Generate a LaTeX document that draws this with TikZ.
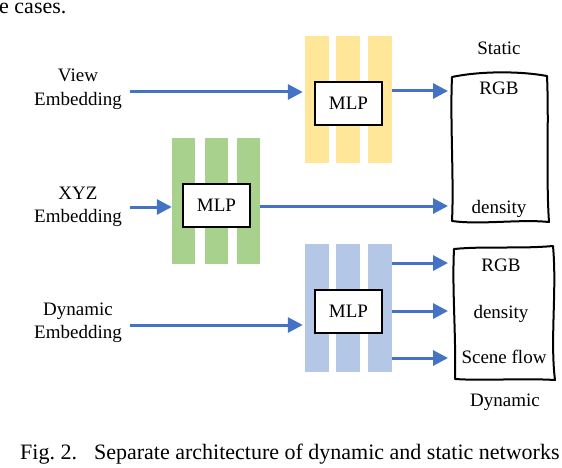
\documentclass[tikz,border=0pt]{standalone}
\usepackage{fontspec}
\setmainfont{Liberation Serif}
\usetikzlibrary{arrows.meta}
\definecolor{arrowblue}{HTML}{4472C4}
\definecolor{baryellow}{HTML}{FFE699}
\definecolor{bargreen}{HTML}{A9D18E}
\definecolor{barblue}{HTML}{B4C7E7}
\begin{document}
\begin{tikzpicture}[x=1pt,y=-1pt,
  txt/.style={font=\fontsize{19}{24}\selectfont, inner sep=0pt, anchor=base},
  flow/.style={draw=arrowblue, line width=3pt, -{Triangle[length=15pt,width=15pt]}},
  mlpbox/.style={draw=black, line width=2pt, fill=white, minimum width=67pt, minimum height=43pt, inner sep=0pt, font=\fontsize{19}{24}\selectfont},
  ybar/.style={fill=baryellow, draw=none, minimum width=24pt, minimum height=127pt, inner sep=0pt},
  gbar/.style={fill=bargreen, draw=none, minimum width=23pt, minimum height=126pt, inner sep=0pt},
  bbar/.style={fill=barblue, draw=none, minimum width=24pt, minimum height=128pt, inner sep=0pt},
  outbox/.style={draw=black, line width=2pt, line join=round}]
\useasboundingbox (0,0) rectangle (562,468);

% cropped text of the page above
\node[anchor=base west, inner sep=0pt, font=\fontsize{22}{26}\selectfont] (prev) at (-1,14) {e cases.};

% input labels
\node[txt] (view1) at (78,82) {View};
\node[txt] (view2) at (78,106) {Embedding};
\node[txt] (xyz1) at (78,199) {XYZ};
\node[txt] (xyz2) at (78,222) {Embedding};
\node[txt] (dyn1) at (78,315) {Dynamic};
\node[txt] (dyn2) at (78,338) {Embedding};

% yellow (view) network
\node[ybar] (y1) at (317,99.5) {};
\node[ybar] (y2) at (348,99.5) {};
\node[ybar] (y3) at (380,99.5) {};
\node[mlpbox] (ymlp) at (348.5,103.5) {MLP};

% green (xyz) network
\node[gbar] (g1) at (183.5,201) {};
\node[gbar] (g2) at (216,201) {};
\node[gbar] (g3) at (248,201) {};
\node[mlpbox] (gmlp) at (216.5,205) {MLP};

% blue (dynamic) network
\node[bbar] (b1) at (317,308) {};
\node[bbar] (b2) at (348,308) {};
\node[bbar] (b3) at (380,308) {};
\node[mlpbox] (bmlp) at (348.5,311.5) {MLP};

% static output box
\draw[outbox] (452,77) .. controls (480,71) and (520,71) .. (547,76)
  .. controls (549,120) and (546,180) .. (549,222)
  .. controls (520,219) and (480,225) .. (452,221)
  .. controls (454,180) and (450,120) .. (452,77) -- cycle;
\node[txt] (stitle) at (499,55) {Static};
\node[txt] (srgb) at (499,95) {RGB};
\node[txt] (sden) at (499,213) {density};

% dynamic output box
\draw[outbox] (454,249) .. controls (485,246) and (520,249) .. (553,246)
  .. controls (557,290) and (550,340) .. (555,380)
  .. controls (520,378) and (485,381) .. (455,379)
  .. controls (456,330) and (452,290) .. (454,249) -- cycle;
\node[txt] (drgb) at (501,271) {RGB};
\node[txt] (dden) at (501,318) {density};
\node[txt] (dflow) at (504,363) {Scene flow};
\node[txt] (dtitle) at (505,406) {Dynamic};

% arrow anchor points
\coordinate (viewout) at (130,92);
\coordinate (xyzout) at (130,207);
\coordinate (dynout) at (130,325);
\coordinate (srgbin) at (448,91);
\coordinate (sdenin) at (448,206);
\coordinate (drgbin) at (448,263);
\coordinate (ddenin) at (448,311);
\coordinate (dflowin) at (448,358);

% arrows
\draw[flow, shorten >=2pt] (viewout) -- (y1.west |- viewout);
\draw[flow] (xyzout) -- (g1.west |- xyzout);
\draw[flow, shorten >=2pt] (dynout) -- (b1.west |- dynout);
\draw[flow] (y3.east |- srgbin) -- (srgbin);
\draw[flow] (g3.east |- sdenin) -- (sdenin);
\draw[flow] (b3.east |- drgbin) -- (drgbin);
\draw[flow] (b3.east |- ddenin) -- (ddenin);
\draw[flow] (b3.east |- dflowin) -- (dflowin);

% caption
\node[anchor=base west, inner sep=0pt, font=\fontsize{22}{26}\selectfont] (cap) at (20,459) {Fig.~2.\hspace{17pt}Separate architecture of dynamic and static networks};
\end{tikzpicture}
\end{document}
